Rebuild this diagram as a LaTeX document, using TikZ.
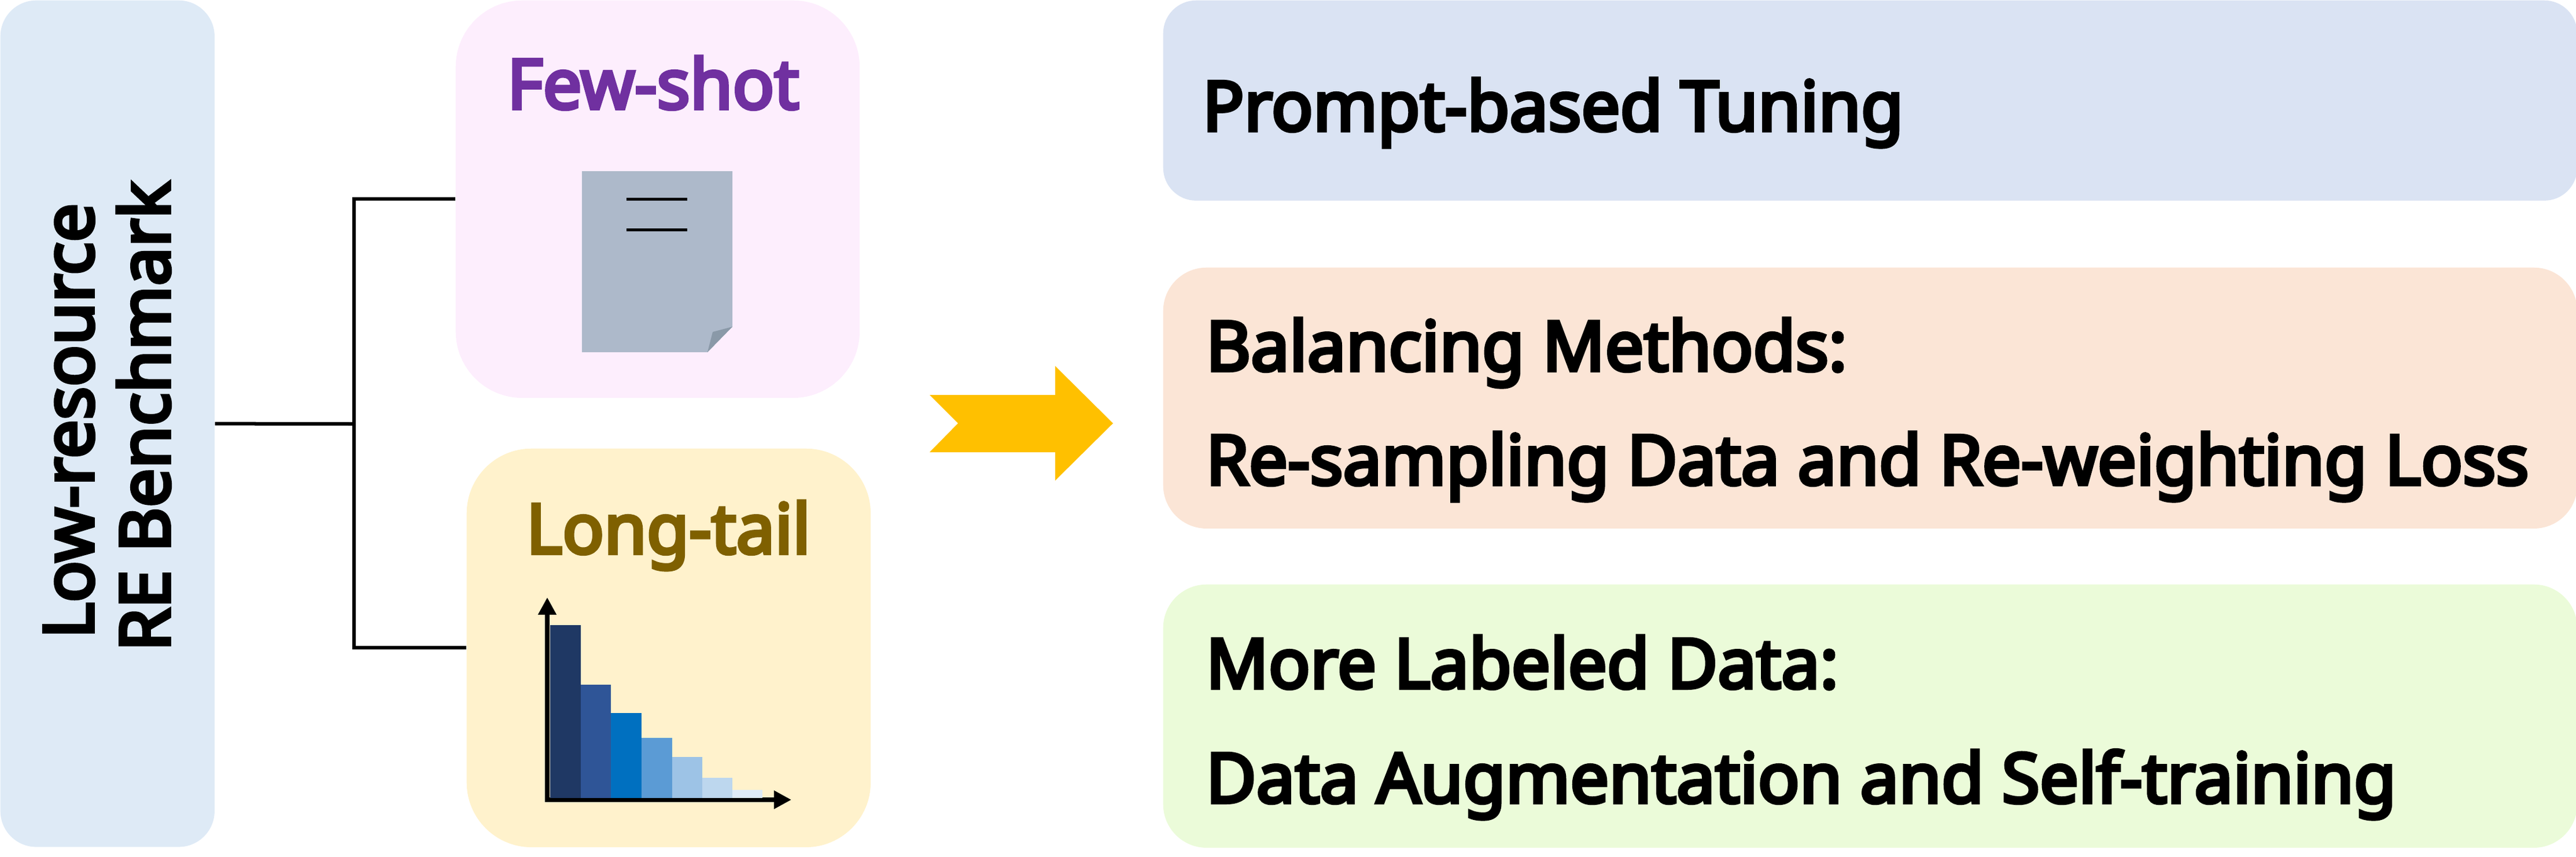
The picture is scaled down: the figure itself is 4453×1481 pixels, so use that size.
\documentclass[tikz,border=0pt]{standalone}
\usepackage{fontspec}
\setmainfont{Noto Sans}[AutoFakeBold=5]
\usepackage{xcolor}
\usetikzlibrary{positioning,arrows.meta}

\definecolor{benchblue}{HTML}{DEEAF6}
\definecolor{fewpink}{HTML}{FDEEFD}
\definecolor{tailcream}{HTML}{FFF2CC}
\definecolor{promptblue}{HTML}{DAE3F3}
\definecolor{balancepeach}{HTML}{FBE5D6}
\definecolor{moregreen}{HTML}{EBFBD9}
\definecolor{fewtext}{HTML}{7030A0}
\definecolor{tailtext}{HTML}{7F6000}
\definecolor{docgrey}{HTML}{ADB9CA}
\definecolor{foldgrey}{HTML}{8A99A8}
\definecolor{arrowgold}{HTML}{FFC000}
\definecolor{barA}{HTML}{1F3864}
\definecolor{barB}{HTML}{2F5597}
\definecolor{barC}{HTML}{0070C0}
\definecolor{barD}{HTML}{5B9BD5}
\definecolor{barE}{HTML}{9DC3E6}
\definecolor{barF}{HTML}{BDD7EE}
\definecolor{barG}{HTML}{DEEBF7}

\tikzset{
    panel/.style={rectangle, anchor=north west, inner sep=0pt},
    link/.style={line width=0.06cm, black},
    axisline/.style={line width=0.08cm, black},
    doctick/.style={line width=0.05cm, black},
    bodytext/.style={anchor=base west, inner sep=0pt, font=\fontsize{33.9}{40}\selectfont\bfseries},
}

\begin{document}
\begin{tikzpicture}[x=0.01cm, y=-0.01cm, >={Triangle[length=0.3cm,width=0.3cm]}]
    \useasboundingbox (0,0) rectangle (4453,1481);

    % Panels
    \node[panel, fill=benchblue, rounded corners=0.62cm, minimum width=3.7cm, minimum height=14.63cm] (bench) at (0,0) {};
    \node[panel, fill=fewpink, rounded corners=1.15cm, minimum width=6.98cm, minimum height=6.87cm] (few) at (787,0) {};
    \node[panel, fill=tailcream, rounded corners=1.12cm, minimum width=6.98cm, minimum height=6.89cm] (tail) at (806,775) {};
    \node[panel, fill=promptblue, rounded corners=0.57cm, minimum width=24.43cm, minimum height=3.46cm] (prompt) at (2010,0) {};
    \node[panel, fill=balancepeach, rounded corners=0.75cm, minimum width=24.43cm, minimum height=4.51cm] (balance) at (2010,462) {};
    \node[panel, fill=moregreen, rounded corners=0.75cm, minimum width=24.43cm, minimum height=4.55cm] (more) at (2010,1010) {};

    % Connectors
    \coordinate (fork) at (612,733);
    \draw[link] (bench.east) -- (fork);
    \draw[link] (few.west) -| (fork) |- (tail.west);

    % Labels
    \node[bodytext, rotate=90] (lowres) at (161,1105) {Low-resource};
    \node[bodytext, rotate=90] (rebench) at (293,1127) {RE Benchmark};
    \node[bodytext, text=fewtext] (fewlabel) at (876,188) {Few-shot};
    \node[bodytext, text=tailtext] (taillabel) at (909,957) {Long-tail};
    \node[bodytext] (promptlabel) at (2078,226) {Prompt-based Tuning};
    \node[bodytext] (balancehead) at (2084,641) {Balancing Methods:};
    \node[bodytext] (balancebody) at (2084,838) {Re-sampling Data and Re-weighting Loss};
    \node[bodytext] (morehead) at (2084,1190) {More Labeled Data:};
    \node[bodytext] (morebody) at (2084,1388) {Data Augmentation and Self-training};

    % Document icon
    \fill[docgrey] (1006,296) -- (1266,296) -- (1266,565) -- (1223,609) -- (1006,609) -- cycle;
    \fill[foldgrey] (1266,565) -- (1232,574) -- (1223,609) -- cycle;
    \draw[doctick] (1083,344) -- (1188,344);
    \draw[doctick] (1083,397) -- (1188,397);

    % Long-tail chart
    \draw[axisline, ->] (946,1385) -- (946,1033);
    \draw[axisline, ->] (942,1383) -- (1368,1383);
    \foreach \xa/\xb/\ytop/\barcol in {951/1004/1081/barA, 1004/1056/1184/barB, 1056/1109/1233/barC, 1109/1162/1276/barD, 1162/1214/1309/barE, 1214/1266/1345/barF, 1266/1318/1366/barG}
        \fill[\barcol] (\xa,\ytop) rectangle (\xb,1380);

    % Gold arrow
    \fill[arrowgold] (1607,683) -- (1824,683) -- (1824,633) -- (1924,732) -- (1824,831) -- (1824,782) -- (1607,782) -- (1656,732) -- cycle;
\end{tikzpicture}
\end{document}
